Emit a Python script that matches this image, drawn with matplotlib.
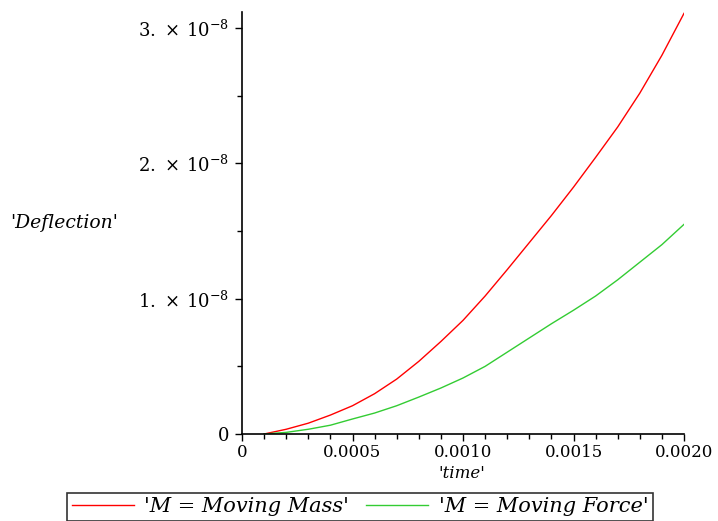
import numpy as np
import matplotlib
matplotlib.use("Agg")
import matplotlib.pyplot as plt
from matplotlib.ticker import MultipleLocator, FixedLocator

plt.rcParams['font.family'] = 'DejaVu Serif'
plt.rcParams['mathtext.fontset'] = 'dejavuserif'

# datos
tiempo = [0.0001, 0.0002, 0.0003, 0.0004, 0.0005, 0.0006, 0.0007, 0.0008, 0.0009, 0.0010,
          0.0011, 0.0012, 0.0013, 0.0014, 0.0015, 0.0016, 0.0017, 0.0018, 0.0019, 0.0020]
masa_movil = [0.0, 0.035, 0.08, 0.14, 0.209, 0.298, 0.406, 0.537, 0.684, 0.84,
              1.02, 1.215, 1.415, 1.615, 1.825, 2.045, 2.27, 2.52, 2.80, 3.11]  # x 1e-8
fuerza_movil = [0.0, 0.012, 0.035, 0.065, 0.111, 0.155, 0.209, 0.273, 0.34, 0.414,
                0.50, 0.605, 0.71, 0.815, 0.915, 1.02, 1.14, 1.27, 1.40, 1.55]  # x 1e-8

xticks = [0, 0.0005, 0.0010, 0.0015, 0.0020]
xlabels = ['0', '0.0005', '0.0010', '0.0015', '0.0020']
yticks = [0, 1e-8, 2e-8, 3e-8]
ylabels = ['0', r'$1.\,\times\,10^{-8}$', r'$2.\,\times\,10^{-8}$', r'$3.\,\times\,10^{-8}$']

t = np.array(tiempo)
y1 = np.array(masa_movil) * 1e-8
y2 = np.array(fuerza_movil) * 1e-8

fig = plt.figure(figsize=(7.18, 5.21), dpi=100)
ax = fig.add_axes([242/718, 1 - 434/521, 442/718, 422/521])

l1, = ax.plot(t, y1, color='#ff0000', lw=1.0, label="'M = Moving Mass'")
l2, = ax.plot(t, y2, color='#33cc33', lw=1.0, label="'M = Moving Force'")

ax.set_xlim(0, 0.002)
ax.set_ylim(0, 3.12e-8)

ax.spines['top'].set_visible(False)
ax.spines['right'].set_visible(False)
ax.spines['left'].set_linewidth(1.2)
ax.spines['bottom'].set_linewidth(1.2)

ax.xaxis.set_major_locator(FixedLocator(xticks))
ax.set_xticklabels(xlabels)
ax.xaxis.set_minor_locator(MultipleLocator(0.0001))
ax.yaxis.set_major_locator(FixedLocator(yticks))
ax.set_yticklabels(ylabels)
ax.yaxis.set_minor_locator(MultipleLocator(0.5e-8))

ax.tick_params(which='major', length=5, width=1, pad=4)
ax.tick_params(axis='x', labelsize=12, pad=2.5)
ax.tick_params(axis='y', labelsize=13)
ax.tick_params(which='minor', length=3.3, width=1)

fig.text(10/718, 1 - 223/521, "'Deflection'", fontsize=13.5, style='italic',
         ha='left', va='center')
fig.text(462/718, 1 - 473/521, "'time'", fontsize=12, style='italic',
         ha='center', va='center')

leg = fig.legend(handles=[l1, l2], loc='center', bbox_to_anchor=(360/718, 1 - 507/521),
                 ncol=2, prop={'style': 'italic', 'size': 15},
                 frameon=True, fancybox=False, edgecolor='black', handlelength=3,
                 columnspacing=0.8, handletextpad=0.5, borderpad=0.2)
leg.get_frame().set_linewidth(1.2)

fig.savefig('out.png', dpi=100)
